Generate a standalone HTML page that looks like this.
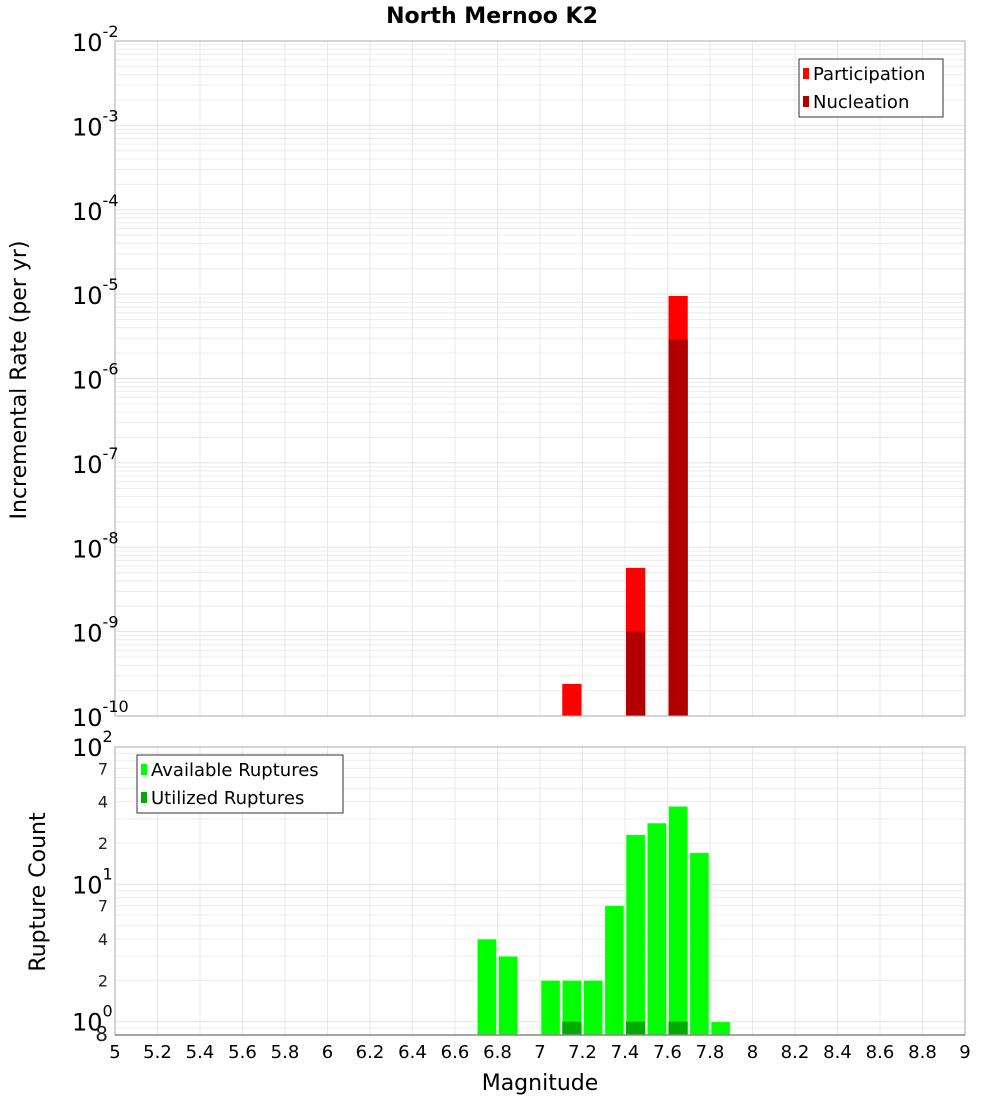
<!DOCTYPE html>
<html><head><meta charset="utf-8">
<style>
html,body{margin:0;padding:0;background:#fff;overflow:hidden;width:1000px;height:1100px;}
svg{display:block;font-family:"DejaVu Sans","Liberation Sans",sans-serif;}
</style></head>
<body>
<svg id="chart" width="1000" height="1100" xmlns="http://www.w3.org/2000/svg"></svg>
<script>
// ---- data ----
const topMags = [7.15, 7.45, 7.65];
const participation = [2.4e-10, 5.7e-9, 9.5e-6];
const nucleation = [0, 1.0e-9, 2.9e-6];
const botMags = [6.75, 6.85, 7.05, 7.15, 7.25, 7.35, 7.45, 7.55, 7.65, 7.75, 7.85];
const available = [4, 3, 2, 2, 2, 7, 23, 28, 37, 17, 1];
const utilMags = [7.15, 7.45, 7.65];
const utilized = [1, 1, 1];
const xTicks = [5,5.2,5.4,5.6,5.8,6,6.2,6.4,6.6,6.8,7,7.2,7.4,7.6,7.8,8,8.2,8.4,8.6,8.8,9];
const topExps = [-2,-3,-4,-5,-6,-7,-8,-9,-10];

const NS = "http://www.w3.org/2000/svg";
const svg = document.getElementById('chart');
function mk(tag, attrs, parent){ const e=document.createElementNS(NS,tag); for(const k in attrs) e.setAttribute(k,attrs[k]); (parent||svg).appendChild(e); return e; }

const L=115, R=965;
const x = m => L + (m-5)/4*(R-L);
const T1=41, B1=716;
const yTop = v => T1 + (-2 - Math.log10(v))/8*(B1-T1);
const T2=747, B2=1035, LMIN=Math.log10(0.8), LMAX=2;
const yBot = v => T2 + (LMAX - Math.log10(v))/(LMAX-LMIN)*(B2-T2);
const bw = (x(5.1)-x(5))-2;

let t = mk('text',{x:492,y:23,'text-anchor':'middle','font-size':22,'font-weight':'bold',fill:'#000'});


t.textContent='North Mernoo K2';

function grid(T,B,minorYs,majorYs,name){
  const g=mk('g',{});
  
  
  minorYs.forEach(y=>mk('line',{x1:L,x2:R,y1:y,y2:y,stroke:'#ececec','stroke-width':1},g));
  majorYs.forEach(y=>mk('line',{x1:L,x2:R,y1:y,y2:y,stroke:'#e4e4e4','stroke-width':1},g));
  xTicks.forEach(m=>mk('line',{x1:x(m),x2:x(m),y1:T,y2:B,stroke:'#e8e8e8','stroke-width':1},g));
}
let tMinor=[],tMajor=[];
for(let e=-10;e<-2;e++){ tMajor.push(yTop(Math.pow(10,e))); for(let k=2;k<10;k++) tMinor.push(yTop(k*Math.pow(10,e))); }
grid(T1,B1,tMinor,tMajor,'top-grid');
let bMinor=[],bMajor=[];
for(let e=-1;e<2;e++){ bMajor.push(yBot(Math.pow(10,e))); for(let k=2;k<10;k++){const v=k*Math.pow(10,e); if(v>=0.8&&v<=100) bMinor.push(yBot(v));} }
grid(T2,B2,bMinor,bMajor,'bottom-grid');

topMags.forEach((m,i)=>{
  const r=mk('rect',{x:x(m)-bw/2,y:yTop(participation[i]),width:bw,height:B1-yTop(participation[i]),fill:'#ff0000'});
  
  
  if(nucleation[i]>0){
    const n=mk('rect',{x:x(m)-bw/2,y:yTop(nucleation[i]),width:bw,height:B1-yTop(nucleation[i]),fill:'#b20000'});
    
    
  }
});
botMags.forEach((m,i)=>{
  const r=mk('rect',{x:x(m)-bw/2,y:yBot(available[i]),width:bw,height:B2-yBot(available[i]),fill:'#00ff00',stroke:'#c8ffc8','stroke-width':0.8});
  
  
});
utilMags.forEach((m,i)=>{
  const r=mk('rect',{x:x(m)-bw/2,y:yBot(utilized[i]),width:bw,height:B2-yBot(utilized[i]),fill:'#00aa00'});
  
  
});

mk('rect',{x:L,y:T1,width:R-L,height:B1-T1,fill:'none',stroke:'#aaa','stroke-width':1});
mk('rect',{x:L,y:T2,width:R-L,height:B2-T2,fill:'none',stroke:'#aaa','stroke-width':1});
mk('line',{x1:L,x2:R,y1:B2,y2:B2,stroke:'#888','stroke-width':1.5});

topExps.forEach(e=>{
  const y=yTop(Math.pow(10,e));
  const tx=mk('text',{x:72,y:y+10,'font-size':24,fill:'#000'});
  
  
  tx.textContent='10';
  const s=mk('tspan',{dy:-14,'font-size':16},tx); s.textContent=String(e);
});
[[100,'2'],[10,'1'],[1,'0']].forEach(([v,e])=>{
  const y=yBot(v);
  const tx=mk('text',{x:72,y:y+9,'font-size':24,fill:'#000'});
  
  
  tx.textContent='10';
  const s=mk('tspan',{dy:-14,'font-size':16},tx); s.textContent=e;
});
[[70,'7'],[40,'4'],[20,'2'],[7,'7'],[4,'4'],[2,'2'],[0.8,'8']].forEach(([v,s])=>{
  const tx=mk('text',{x:108,y:yBot(v)+6,'text-anchor':'end','font-size':v==0.8?20:16,fill:'#222'});
  
  
  tx.textContent=s;
});
xTicks.forEach(m=>{
  const tx=mk('text',{x:x(m),y:1058,'text-anchor':'middle','font-size':18,fill:'#000'});
  
  
  tx.textContent=String(m);
});
t=mk('text',{x:540,y:1090,'text-anchor':'middle','font-size':22,fill:'#000'});


t.textContent='Magnitude';
t=mk('text',{x:0,y:0,'text-anchor':'middle','font-size':22,fill:'#000',transform:'translate(26,380) rotate(-90)'});


t.textContent='Incremental Rate (per yr)';
t=mk('text',{x:0,y:0,'text-anchor':'middle','font-size':22,fill:'#000',transform:'translate(45,892) rotate(-90)'});


t.textContent='Rupture Count';

function legend(x0,y0,w,items,name){
  const g=mk('g',{});
  
  
  mk('rect',{x:x0,y:y0,width:w,height:58,fill:'#fff',stroke:'#333','stroke-width':1},g);
  items.forEach(([c,l],i)=>{
    mk('rect',{x:x0+4,y:y0+9+i*28,width:6,height:11,fill:c},g);
    const tx=mk('text',{x:x0+14,y:y0+21+i*28,'font-size':18,fill:'#000'},g);
    tx.textContent=l;
  });
}
legend(799,59,144,[['#ff0000','Participation'],['#b20000','Nucleation']],'top-legend');
legend(137,755,206,[['#00ff00','Available Ruptures'],['#00aa00','Utilized Ruptures']],'bottom-legend');
</script>
</body></html>
